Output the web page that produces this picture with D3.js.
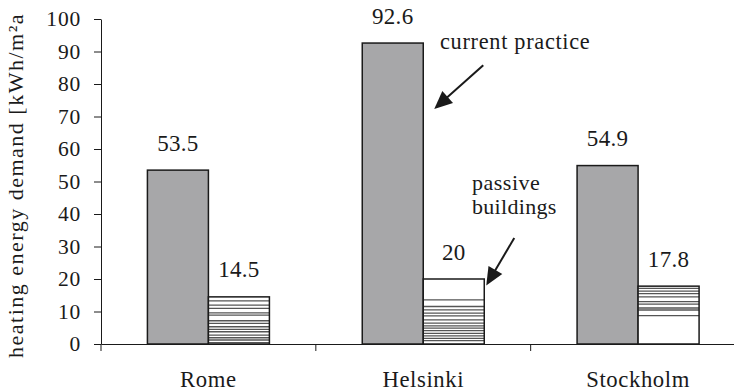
<!DOCTYPE html>
<html>
<head>
<meta charset="utf-8">
<script src="https://cdn.jsdelivr.net/npm/d3@7/dist/d3.min.js"></script>
<style>
  html, body { margin: 0; padding: 0; background: #fff; }
  svg text { font-family: "Liberation Serif", "Times New Roman", serif; fill: #1a1a1a; }
</style>
</head>
<body>
<svg id="chart" width="734" height="392"></svg>
<script>
// Heating energy demand per city: current practice vs passive buildings
const cities = ["Rome", "Helsinki", "Stockholm"];
const currentPractice = [53.5, 92.6, 54.9];
const passiveBuildings = [14.5, 20, 17.8];
const yTicks = [0, 10, 20, 30, 40, 50, 60, 70, 80, 90, 100];
const yTitle = "heating energy demand [kWh/m\u00B2a";

// Horizontal hatch rows inside each passive-building bar (fraction of bar height from top)
const hatchRows = {
  Rome: [0.085, 0.176, 0.245, 0.338, 0.387, 0.507, 0.562, 0.634, 0.689, 0.740, 0.810, 0.867, 0.915, 0.972],
  Helsinki: [0.32, 0.423, 0.474, 0.526, 0.567, 0.629, 0.680, 0.722, 0.757, 0.794, 0.835, 0.876, 0.912, 0.949],
  Stockholm: [0.039, 0.085, 0.130, 0.186, 0.266, 0.310, 0.378, 0.412, 0.508]
};

const rows = cities.map((c, i) => ({ city: c, current: currentPractice[i], passive: passiveBuildings[i] }));
const series = ["current", "passive"];

const svg = d3.select("#chart");
const ink = "#1a1a1a";

const x = d3.scaleBand().domain(cities).range([101, 745.5]).paddingInner(0).paddingOuter(0);
const barW = 61;
const x1 = d3.scaleBand().domain(series)
  .range([x.bandwidth() / 2 - barW, x.bandwidth() / 2 + barW]).padding(0);
const y = d3.scaleLinear().domain([0, 100]).range([344, 19]);

// Bars
const groups = svg.append("g").selectAll("g").data(rows).join("g")
  .attr("transform", d => `translate(${x(d.city)},0)`);

groups.append("rect")
  .attr("x", x1("current")).attr("width", x1.bandwidth())
  .attr("y", d => y(d.current)).attr("height", d => y(0) - y(d.current))
  .attr("fill", "#a7a7a9").attr("stroke", ink).attr("stroke-width", 1.5);

groups.append("rect")
  .attr("x", x1("passive")).attr("width", x1.bandwidth())
  .attr("y", d => y(d.passive)).attr("height", d => y(0) - y(d.passive))
  .attr("fill", "#fff");

groups.each(function (d) {
  const g = d3.select(this);
  const top = y(d.passive), h = y(0) - y(d.passive);
  g.selectAll("line.hatch").data(hatchRows[d.city]).join("line")
    .attr("class", "hatch")
    .attr("x1", x1("passive")).attr("x2", x1("passive") + x1.bandwidth())
    .attr("y1", f => top + f * h).attr("y2", f => top + f * h)
    .attr("stroke", "#555").attr("stroke-width", 1.3);
});

groups.append("rect")
  .attr("x", x1("passive")).attr("width", x1.bandwidth())
  .attr("y", d => y(d.passive)).attr("height", d => y(0) - y(d.passive))
  .attr("fill", "none").attr("stroke", ink).attr("stroke-width", 1.5);

// Value labels
const labelGap = 19.5;
const valueFont = { size: 23, spacing: "0.3px" };
groups.append("text")
  .attr("x", x1("current") + x1.bandwidth() / 2)
  .attr("y", d => y(d.current) - labelGap)
  .attr("text-anchor", "middle").attr("font-size", valueFont.size).attr("letter-spacing", valueFont.spacing)
  .text(d => d.current);
groups.append("text")
  .attr("x", x1("passive") + x1.bandwidth() / 2)
  .attr("y", d => y(d.passive) - labelGap)
  .attr("text-anchor", "middle").attr("font-size", valueFont.size).attr("letter-spacing", valueFont.spacing)
  .text(d => d.passive);

// Y axis
const yAxis = svg.append("g").attr("transform", `translate(${x.range()[0]},0)`)
  .call(d3.axisLeft(y).tickValues(yTicks).tickSize(7).tickSizeOuter(0).tickPadding(13));
yAxis.select(".domain").attr("stroke", ink);
yAxis.selectAll(".tick line").attr("stroke", ink);
yAxis.selectAll(".tick text")
  .attr("font-size", 21.5).attr("letter-spacing", "0.8px")
  .attr("font-family", null).attr("fill", ink);

// X axis: labels at category centres, ticks on category boundaries
const xAxis = svg.append("g").attr("transform", `translate(0,${y(0)})`)
  .call(d3.axisBottom(x).tickSize(0).tickSizeOuter(0).tickPadding(27));
xAxis.select(".domain").attr("stroke", ink);
xAxis.selectAll(".tick text")
  .attr("font-size", 22.7).attr("letter-spacing", "0.6px")
  .attr("font-family", null).attr("fill", ink);
xAxis.selectAll("line.boundary").data(cities).join("line")
  .attr("class", "boundary")
  .attr("x1", d => x(d)).attr("x2", d => x(d))
  .attr("y1", 0).attr("y2", 7).attr("stroke", ink);

// Y axis title
svg.append("text")
  .attr("transform", "translate(23,358) rotate(-90)")
  .attr("font-size", 22).attr("letter-spacing", "1.5px")
  .text(yTitle);

// Annotations
function arrow(x0, y0, x1p, y1p) {
  const dx = x1p - x0, dy = y1p - y0, len = Math.hypot(dx, dy);
  const ux = dx / len, uy = dy / len, hl = 18, hw = 8;
  const bx = x1p - ux * hl, by = y1p - uy * hl;
  svg.append("line").attr("x1", x0).attr("y1", y0).attr("x2", bx + ux * 2).attr("y2", by + uy * 2)
    .attr("stroke", ink).attr("stroke-width", 2);
  svg.append("path")
    .attr("d", `M${x1p},${y1p}L${bx - uy * hw},${by + ux * hw}L${bx + uy * hw},${by - ux * hw}Z`)
    .attr("fill", ink);
}

const hel = rows[1];
const curRight = x(hel.city) + x1("current") + x1.bandwidth();
const pasRight = x(hel.city) + x1("passive") + x1.bandwidth();

svg.append("text").attr("x", 440).attr("y", 49)
  .attr("font-size", 22.3).attr("letter-spacing", "0.7px").text("current practice");
arrow(curRight + 60, y(85.8), curRight + 11, y(72.3));

svg.append("text").attr("x", 472).attr("y", 190)
  .attr("font-size", 22).attr("letter-spacing", "0.5px").text("passive");
svg.append("text").attr("x", 472).attr("y", 214)
  .attr("font-size", 22).attr("letter-spacing", "0.3px").text("buildings");
arrow(pasRight + 30, y(32.6), pasRight + 2, y(18));
</script>
</body>
</html>
